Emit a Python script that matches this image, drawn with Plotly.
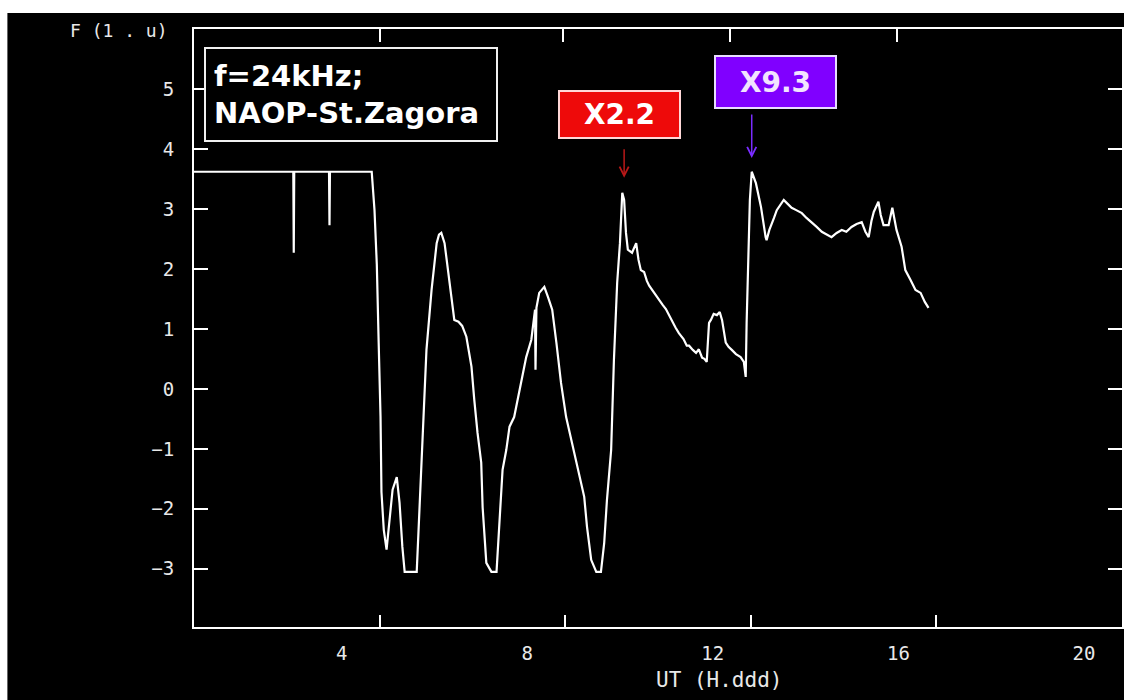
import plotly.graph_objects as go

# ---- data (UT hours, relative amplitude) ----
ut = [0.00, 2.14, 2.15, 2.16, 2.91, 2.92, 2.93, 3.83, 3.89, 3.94, 3.98, 4.02, 4.04, 4.09, 4.15,
      4.22, 4.28, 4.37, 4.43, 4.49, 4.54, 4.80, 4.84, 4.92, 5.01, 5.12, 5.23, 5.28, 5.33, 5.40,
      5.51, 5.61, 5.70, 5.78, 5.87, 5.98, 6.04, 6.11, 6.19, 6.22, 6.30, 6.41, 6.52, 6.58, 6.65,
      6.73, 6.80, 6.90, 7.01, 7.16, 7.27, 7.35, 7.36, 7.38, 7.44, 7.55, 7.63, 7.72, 7.81, 7.91,
      8.02, 8.15, 8.30, 8.41, 8.47, 8.56, 8.67, 8.77, 8.84, 8.90, 8.99, 9.05, 9.12, 9.18, 9.23,
      9.27, 9.31, 9.35, 9.44, 9.53, 9.58, 9.63, 9.70, 9.76, 9.81, 9.90, 9.95, 10.02, 10.10,
      10.17, 10.24, 10.32, 10.38, 10.45, 10.55, 10.62, 10.67, 10.75, 10.82, 10.88, 10.95, 11.00,
      11.05, 11.10, 11.14, 11.20, 11.27, 11.33, 11.38, 11.46, 11.52, 11.59, 11.68, 11.78, 11.85,
      11.89, 11.91, 11.98, 12.02, 12.11, 12.22, 12.32, 12.34, 12.40, 12.45, 12.50, 12.56, 12.63,
      12.71, 12.80, 12.88, 12.98, 13.10, 13.20, 13.31, 13.42, 13.53, 13.62, 13.74, 13.85, 13.96,
      14.06, 14.17, 14.28, 14.39, 14.47, 14.54, 14.60, 14.65, 14.75, 14.80, 14.86, 14.97, 15.05,
      15.14, 15.25, 15.33, 15.44, 15.50, 15.55, 15.66, 15.75, 15.83]
amp = [3.62, 3.62, 2.27, 3.62, 3.62, 2.73, 3.62, 3.62, 2.98, 2.07, 0.77, -0.47, -1.72, -2.35, -2.68,
       -2.13, -1.68, -1.47, -1.90, -2.63, -3.05, -3.05, -2.30, -0.85, 0.65, 1.65, 2.43, 2.57, 2.60, 2.43,
       1.77, 1.15, 1.12, 1.05, 0.87, 0.37, -0.18, -0.73, -1.23, -1.97, -2.90, -3.05, -3.05, -2.30, -1.35,
       -1.02, -0.63, -0.47, -0.02, 0.53, 0.82, 1.32, 0.32, 1.35, 1.60, 1.70, 1.53, 1.32, 0.77, 0.10,
       -0.47, -0.90, -1.40, -1.80, -2.30, -2.85, -3.05, -3.05, -2.57, -1.85, -1.02, 0.48, 1.77, 2.43, 3.27,
       3.15, 2.60, 2.32, 2.27, 2.43, 2.15, 1.98, 1.95, 1.80, 1.72, 1.62, 1.55, 1.48, 1.40,
       1.33, 1.22, 1.12, 1.02, 0.93, 0.83, 0.72, 0.72, 0.65, 0.60, 0.66, 0.52, 0.50,
       0.45, 1.10, 1.15, 1.25, 1.23, 1.28, 1.15, 0.77, 0.70, 0.65, 0.58, 0.53, 0.45,
       0.20, 1.10, 3.15, 3.62, 3.43, 3.03, 2.53, 2.48, 2.65, 2.77, 2.85, 2.98, 3.05,
       3.15, 3.08, 3.02, 2.98, 2.93, 2.85, 2.78, 2.70, 2.62, 2.58, 2.53, 2.60, 2.65,
       2.62, 2.70, 2.75, 2.78, 2.62, 2.53, 2.80, 2.95, 3.12, 2.90, 2.73, 2.73, 3.02,
       2.65, 2.37, 1.98, 1.82, 1.72, 1.65, 1.60, 1.45, 1.35]

x_ticks = [4, 8, 12, 16, 20]
x_tick_text = ["4", "8", "12", "16", "20"]
top_ticks = [4.0, 7.96, 11.55, 15.16]
y_ticks = [-3, -2, -1, 0, 1, 2, 3, 4, 5]
y_tick_text = ["−3", "−2", "−1", "0", "1", "2", "3", "4", "5"]

flares = [
    {"label": "X2.2", "x": 9.27, "y": 3.52, "ay": -30, "box": "#ee0a0a", "arrow": "#b81818",
     "txt": "#ffffff", "border": "#ffd8d8", "bx": 0.458, "by": 0.857, "h": 43},
    {"label": "X9.3", "x": 12.02, "y": 3.85, "ay": -45, "box": "#8000ff", "arrow": "#7a2cff",
     "txt": "#f2e4ff", "border": "#e8dcff", "bx": 0.627, "by": 0.911, "h": 48},
]

fig = go.Figure()
fig.add_trace(go.Scatter(x=ut, y=amp, mode="lines",
                         line=dict(color="white", width=2.2), showlegend=False,
                         hoverinfo="skip"))
fig.add_trace(go.Scatter(x=[], y=[], xaxis="x2", showlegend=False))

tickfont = dict(family="DejaVu Sans Mono", size=19, color="#e8e8e8")

fig.update_layout(
    width=1124, height=700,
    margin=dict(l=194, r=0, t=29, b=73),
    paper_bgcolor="black", plot_bgcolor="black",
    xaxis=dict(range=[0, 20], tickvals=x_ticks, ticktext=x_tick_text,
               ticks="inside", ticklen=12, tickwidth=2, tickcolor="white",
               showline=True, linecolor="white", linewidth=2, mirror=True,
               showgrid=False, zeroline=False, tickfont=tickfont,
               ticklabelshift=-38, ticklabelstandoff=8),
    xaxis2=dict(range=[0, 20], overlaying="x", side="top", anchor="y",
                tickvals=top_ticks, showticklabels=False, ticks="inside",
                ticklen=13, tickwidth=2, tickcolor="white", showline=False,
                showgrid=False, zeroline=False),
    yaxis=dict(range=[-3.97, 6.0], tickvals=y_ticks, ticktext=y_tick_text,
               ticks="inside", ticklen=14, tickwidth=2, tickcolor="white",
               showline=True, linecolor="white", linewidth=2, mirror="ticks",
               showgrid=False, zeroline=False, tickfont=tickfont,
               ticklabelstandoff=14),
)

# white outer strips (top / left) as in the reference screenshot
fig.add_shape(type="rect", xref="paper", yref="paper", x0=-0.25, x1=1.05,
              y0=(627 - 13) / 598, y1=1.1, fillcolor="white", line_width=0, layer="above")
fig.add_shape(type="rect", xref="paper", yref="paper", x0=-0.25, x1=(7 - 194) / 930,
              y0=-0.2, y1=1.1, fillcolor="white", line_width=0, layer="above")

anns = []
anns.append(dict(xref="paper", yref="paper", x=(204 - 194) / 930, y=(627 - 47) / 598,
                 xanchor="left", yanchor="top", showarrow=False,
                 text="<b>f=24kHz;<br>NAOP-St.Zagora</b>", align="left",
                 font=dict(family="DejaVu Sans", size=29, color="white"),
                 bgcolor="black", bordercolor="#f0f0f0", borderwidth=2, borderpad=8,
                 width=274, height=75))
for f in flares:
    anns.append(dict(xref="paper", yref="paper", x=f["bx"], y=f["by"], showarrow=False,
                     text="<b>" + f["label"] + "</b>", xanchor="center", yanchor="middle",
                     font=dict(family="DejaVu Sans", size=28, color=f["txt"]),
                     bgcolor=f["box"], bordercolor=f["border"], borderwidth=2, borderpad=1,
                     width=117, height=f["h"]))
    anns.append(dict(x=f["x"], y=f["y"], xref="x", yref="y", text="", showarrow=True,
                     ax=0, ay=f["ay"], arrowhead=5, arrowsize=1.2, arrowwidth=1.5,
                     arrowcolor=f["arrow"]))
anns.append(dict(xref="paper", yref="paper", x=(119 - 194) / 930, y=(627 - 30) / 598,
                 showarrow=False, text="F (1 . u)", xanchor="center", yanchor="middle",
                 font=dict(family="DejaVu Sans Mono", size=18, color="#e8e8e8")))
anns.append(dict(xref="paper", yref="paper", x=(720 - 194) / 930, y=(627 - 680) / 598,
                 showarrow=False, text="UT (H.ddd)", xanchor="center", yanchor="middle",
                 font=dict(family="DejaVu Sans Mono", size=21, color="#e8e8e8")))
fig.update_layout(annotations=anns)

fig.write_html("out.html",
               config={"displayModeBar": False},
               post_script="document.body.style.margin='0';"
                           "document.body.style.overflow='hidden';")
